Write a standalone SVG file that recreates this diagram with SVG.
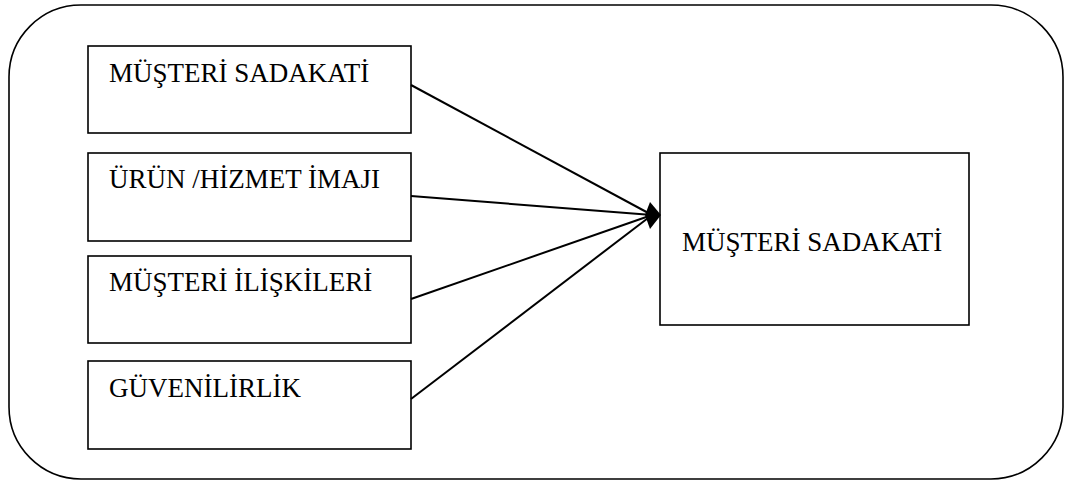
<svg xmlns="http://www.w3.org/2000/svg" width="1067" height="484" viewBox="0 0 1067 484">
<style>
.box{fill:#fff;stroke:#000;stroke-width:1.6}
.t{font-family:"Liberation Serif","Times New Roman",serif;font-size:27px;fill:#000}
.ln{stroke:#000;stroke-width:2;fill:none}
</style>
<rect width="1067" height="484" fill="#fff"/>
<g id="frame"><rect x="9" y="5" width="1054" height="474" rx="72" ry="72" fill="none" stroke="#000" stroke-width="1.6"/></g>
<g id="n1"><rect class="box" x="88" y="46" width="323" height="87"/><text class="t" x="109" y="82">MÜŞTERİ SADAKATİ</text></g>
<g id="n2"><rect class="box" x="88" y="153" width="323" height="88"/><text class="t" x="109" y="188">ÜRÜN /HİZMET İMAJI</text></g>
<g id="n3"><rect class="box" x="88" y="256" width="323" height="87"/><text class="t" x="109" y="291">MÜŞTERİ İLİŞKİLERİ</text></g>
<g id="n4"><rect class="box" x="88" y="361" width="323" height="88"/><text class="t" x="109" y="397">GÜVENİLİRLİK</text></g>
<g id="target"><rect class="box" x="660" y="153" width="309" height="172"/><text class="t" x="682" y="251">MÜŞTERİ SADAKATİ</text></g>
<g id="connectors">
<line class="ln" x1="411" y1="85" x2="652" y2="215"/>
<line class="ln" x1="411" y1="196" x2="652" y2="215"/>
<line class="ln" x1="411" y1="299" x2="652" y2="215"/>
<line class="ln" x1="411" y1="399" x2="652" y2="215"/>
<polygon points="661,215 650,202 645,215 650,229" fill="#000"/>
</g>
</svg>
